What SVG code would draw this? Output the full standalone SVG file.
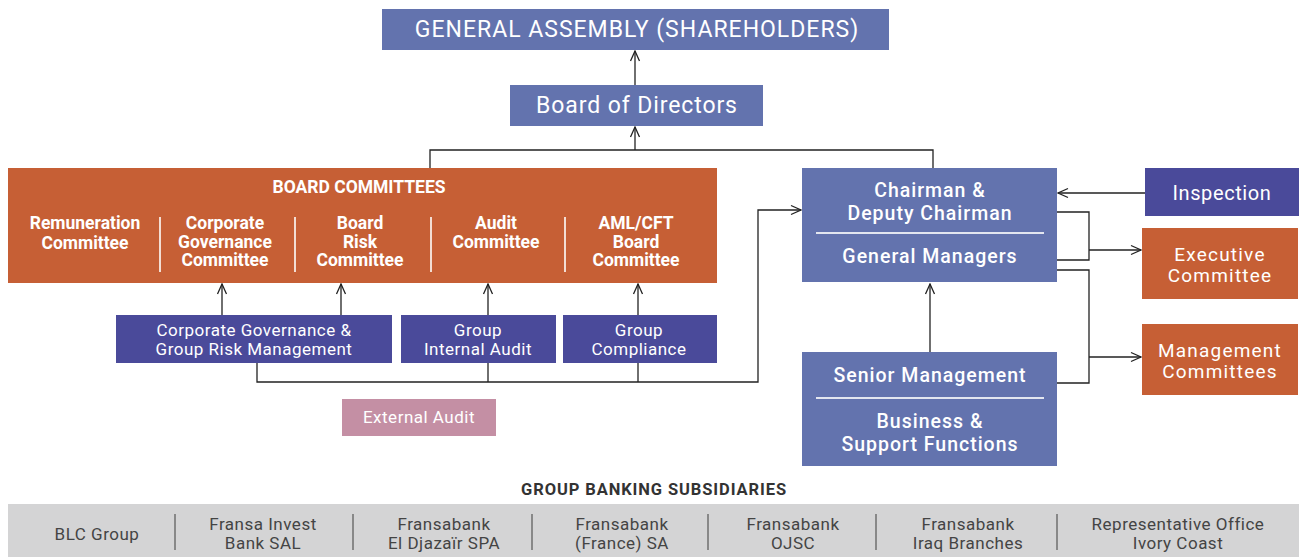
<svg xmlns="http://www.w3.org/2000/svg" width="1299" height="557" viewBox="0 0 1299 557">
  <defs>
    <marker id="arr" viewBox="0 0 12 12" refX="11" refY="6" markerWidth="12" markerHeight="12" markerUnits="userSpaceOnUse" orient="auto">
      <path d="M1,1.5 L11,6 L1,10.5" fill="none" stroke="#222" stroke-width="1.3"/>
    </marker>
  </defs>
  <style>
    text { font-family: Roboto, "Liberation Sans", sans-serif; fill: #fff; text-anchor: middle; }
    .blue { fill: #6373ae; }
    .navy { fill: #4a4a9a; }
    .orange { fill: #c65f35; }
    .pink { fill: #c48fa4; }
    .gray { fill: #d4d4d5; }
    .b { font-weight: bold; }
    .bc { font-weight: bold; font-size: 17.5px; }
    .nv { font-size: 17px; letter-spacing: 0.5px; }
    .mg { font-size: 19.5px; font-weight: 500; letter-spacing: 1px; }
    .or { font-size: 19px; letter-spacing: 1.2px; }
    .sep { stroke: #f3ddd3; stroke-width: 2; }
    .div { stroke: #e3e6f0; stroke-width: 2; }
    .conn { fill: none; stroke: #222; stroke-width: 1.3; }
    .sub { fill: #444; font-size: 17px; letter-spacing: 0.5px; }
    .subsep { stroke: #555; stroke-width: 1.2; }
  </style>

  <!-- connectors -->
  <g id="connectors">
    <line class="conn" x1="635" y1="85" x2="635" y2="51" marker-end="url(#arr)"/>
    <polyline class="conn" points="430,168 430,150 933,150 933,168"/>
    <line class="conn" x1="635" y1="150" x2="635" y2="127" marker-end="url(#arr)"/>
    <line class="conn" x1="222" y1="315" x2="222" y2="284" marker-end="url(#arr)"/>
    <line class="conn" x1="341" y1="315" x2="341" y2="284" marker-end="url(#arr)"/>
    <line class="conn" x1="488" y1="315" x2="488" y2="284" marker-end="url(#arr)"/>
    <line class="conn" x1="638" y1="315" x2="638" y2="284" marker-end="url(#arr)"/>
    <polyline class="conn" points="257,363 257,382 758,382 758,210 801,210" marker-end="url(#arr)"/>
    <line class="conn" x1="488" y1="363" x2="488" y2="382"/>
    <line class="conn" x1="638" y1="363" x2="638" y2="382"/>
    <line class="conn" x1="1145" y1="193" x2="1058" y2="193" marker-end="url(#arr)"/>
    <polyline class="conn" points="1057,212 1089,212 1089,260 1057,260"/>
    <line class="conn" x1="1089" y1="250" x2="1141" y2="250" marker-end="url(#arr)"/>
    <polyline class="conn" points="1057,270 1089,270 1089,383 1057,383"/>
    <line class="conn" x1="1089" y1="357" x2="1141" y2="357" marker-end="url(#arr)"/>
    <line class="conn" x1="930" y1="352" x2="930" y2="284" marker-end="url(#arr)"/>
  </g>

  <g id="general-assembly">
    <rect class="blue" x="382" y="9" width="507" height="41"/>
    <text x="637" y="37" font-size="23" letter-spacing="1">GENERAL ASSEMBLY (SHAREHOLDERS)</text>
  </g>

  <g id="board-of-directors">
    <rect class="blue" x="510" y="85" width="253" height="41"/>
    <text x="637" y="113" font-size="23" letter-spacing="0.9">Board of Directors</text>
  </g>

  <g id="board-committees">
    <rect class="orange" x="8" y="168" width="709" height="115"/>
    <text class="bc" x="359" y="193">BOARD COMMITTEES</text>
    <text class="bc" x="85" y="229">Remuneration</text>
    <text class="bc" x="85" y="249">Committee</text>
    <text class="bc" x="225" y="229">Corporate</text>
    <text class="bc" x="225" y="248">Governance</text>
    <text class="bc" x="225" y="266">Committee</text>
    <text class="bc" x="360" y="229">Board</text>
    <text class="bc" x="360" y="248">Risk</text>
    <text class="bc" x="360" y="266">Committee</text>
    <text class="bc" x="496" y="229">Audit</text>
    <text class="bc" x="496" y="248">Committee</text>
    <text class="bc" x="636" y="229">AML/CFT</text>
    <text class="bc" x="636" y="248">Board</text>
    <text class="bc" x="636" y="266">Committee</text>
    <line class="sep" x1="160" y1="217" x2="160" y2="272"/>
    <line class="sep" x1="295" y1="217" x2="295" y2="272"/>
    <line class="sep" x1="431" y1="217" x2="431" y2="272"/>
    <line class="sep" x1="565" y1="217" x2="565" y2="272"/>
  </g>

  <g id="corporate-governance-risk">
    <rect class="navy" x="116" y="315" width="276" height="48"/>
    <text class="nv" x="254" y="336">Corporate Governance &amp;</text>
    <text class="nv" x="254" y="355">Group Risk Management</text>
  </g>

  <g id="group-internal-audit">
    <rect class="navy" x="401" y="315" width="155" height="48"/>
    <text class="nv" x="478" y="336">Group</text>
    <text class="nv" x="478" y="355">Internal Audit</text>
  </g>

  <g id="group-compliance">
    <rect class="navy" x="563" y="315" width="154" height="48"/>
    <text class="nv" x="639" y="336">Group</text>
    <text class="nv" x="639" y="355">Compliance</text>
  </g>

  <g id="external-audit">
    <rect class="pink" x="342" y="399" width="154" height="37"/>
    <text class="nv" x="419" y="423">External Audit</text>
  </g>

  <g id="chairman-general-managers">
    <rect class="blue" x="802" y="168" width="255" height="114"/>
    <text class="mg" x="930" y="197">Chairman &amp;</text>
    <text class="mg" x="930" y="220">Deputy Chairman</text>
    <line class="div" x1="816" y1="233" x2="1044" y2="233"/>
    <text class="mg" x="930" y="263">General Managers</text>
  </g>

  <g id="inspection">
    <rect class="navy" x="1145" y="168" width="154" height="48"/>
    <text x="1222" y="200" font-size="20" letter-spacing="0.6">Inspection</text>
  </g>

  <g id="executive-committee">
    <rect class="orange" x="1142" y="228" width="156" height="71"/>
    <text class="or" x="1220" y="261">Executive</text>
    <text class="or" x="1220" y="282">Committee</text>
  </g>

  <g id="management-committees">
    <rect class="orange" x="1142" y="324" width="156" height="71"/>
    <text class="or" x="1220" y="357">Management</text>
    <text class="or" x="1220" y="378">Committees</text>
  </g>

  <g id="senior-management">
    <rect class="blue" x="802" y="352" width="255" height="114"/>
    <text class="mg" x="930" y="382">Senior Management</text>
    <line class="div" x1="816" y1="398" x2="1044" y2="398"/>
    <text class="mg" x="930" y="428">Business &amp;</text>
    <text class="mg" x="930" y="451">Support Functions</text>
  </g>

  <g id="subsidiaries">
    <text class="b" x="654" y="495" font-size="16.5" letter-spacing="0.9" style="fill:#333">GROUP BANKING SUBSIDIARIES</text>
    <rect class="gray" x="8" y="504" width="1291" height="53"/>
    <line class="subsep" x1="175" y1="514" x2="175" y2="550"/>
    <line class="subsep" x1="353" y1="514" x2="353" y2="550"/>
    <line class="subsep" x1="532" y1="514" x2="532" y2="550"/>
    <line class="subsep" x1="708" y1="514" x2="708" y2="550"/>
    <line class="subsep" x1="876" y1="514" x2="876" y2="550"/>
    <line class="subsep" x1="1057" y1="514" x2="1057" y2="550"/>
    <text class="sub" x="97" y="540">BLC Group</text>
    <text class="sub" x="263" y="530">Fransa Invest</text>
    <text class="sub" x="263" y="549">Bank SAL</text>
    <text class="sub" x="444" y="530">Fransabank</text>
    <text class="sub" x="444" y="549">El Djazaïr SPA</text>
    <text class="sub" x="622" y="530">Fransabank</text>
    <text class="sub" x="622" y="549">(France) SA</text>
    <text class="sub" x="793" y="530">Fransabank</text>
    <text class="sub" x="793" y="549">OJSC</text>
    <text class="sub" x="968" y="530">Fransabank</text>
    <text class="sub" x="968" y="549">Iraq Branches</text>
    <text class="sub" x="1178" y="530">Representative Office</text>
    <text class="sub" x="1178" y="549">Ivory Coast</text>
  </g>
</svg>
